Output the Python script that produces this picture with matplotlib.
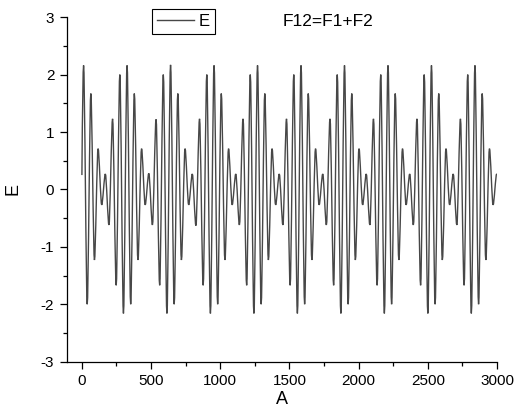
import numpy as np
import matplotlib
matplotlib.use('Agg')
from matplotlib import pyplot as plt
from matplotlib.ticker import MultipleLocator
from matplotlib.path import Path
from matplotlib.patches import PathPatch

plt.rcParams['font.family'] = ['Liberation Sans', 'DejaVu Sans']
plt.rcParams['axes.unicode_minus'] = False

# turning points of E (A, E), plus the first and last sample
start_pt = (1, 0.25)
end_pt = (3000, 0.26)

peak_x = [13.1, 39.3, 65.5, 91.6, 117.8, 144.0, 170.2, 196.4, 222.5, 248.7, 274.9, 301.1,
          327.2, 353.4, 379.6, 405.8, 431.9, 458.1, 484.3, 510.5, 536.7, 562.8, 589.0, 615.2,
          641.4, 667.6, 693.8, 719.9, 746.1, 772.3, 798.5, 824.7, 850.8, 877.0, 903.2, 929.4,
          955.6, 981.7, 1007.9, 1034.1, 1060.3, 1086.5, 1112.6, 1138.8, 1165.0, 1191.2, 1217.3, 1243.5,
          1269.7, 1295.9, 1322.1, 1348.2, 1374.4, 1400.6, 1426.8, 1453.0, 1479.1, 1505.3, 1531.5, 1557.7,
          1583.9, 1610.0, 1636.2, 1662.4, 1688.6, 1714.7, 1740.9, 1767.1, 1793.3, 1819.5, 1845.6, 1871.8,
          1898.0, 1924.2, 1950.4, 1976.5, 2002.7, 2028.9, 2055.1, 2081.3, 2107.4, 2133.6, 2159.8, 2186.0,
          2212.2, 2238.3, 2264.5, 2290.7, 2316.9, 2343.0, 2369.2, 2395.4, 2421.6, 2447.8, 2473.9, 2500.1,
          2526.3, 2552.5, 2578.7, 2604.8, 2631.0, 2657.2, 2683.4, 2709.6, 2735.7, 2761.9, 2788.1, 2814.3,
          2840.5, 2866.6, 2892.8, 2919.0, 2945.2, 2971.4, 2997.5]

peak_E = [2.16, -2.00, 1.67, -1.23, 0.71, -0.27, 0.27, -0.62, 1.23, -1.67, 2.00, -2.16,
          2.16, -2.00, 1.67, -1.23, 0.71, -0.27, 0.28, -0.62, 1.22, -1.67, 2.00, -2.16,
          2.17, -2.00, 1.67, -1.23, 0.71, -0.27, 0.27, -0.63, 1.23, -1.67, 2.00, -2.16,
          2.16, -2.00, 1.67, -1.23, 0.71, -0.27, 0.27, -0.62, 1.23, -1.67, 2.00, -2.16,
          2.16, -2.00, 1.67, -1.23, 0.71, -0.27, 0.27, -0.62, 1.23, -1.67, 2.00, -2.16,
          2.16, -2.00, 1.67, -1.23, 0.71, -0.27, 0.27, -0.62, 1.23, -1.67, 2.00, -2.16,
          2.16, -2.00, 1.67, -1.23, 0.71, -0.27, 0.27, -0.62, 1.23, -1.67, 2.00, -2.16,
          2.16, -2.00, 1.67, -1.23, 0.71, -0.27, 0.27, -0.62, 1.23, -1.67, 2.00, -2.16,
          2.16, -2.00, 1.67, -1.23, 0.71, -0.27, 0.27, -0.62, 1.23, -1.67, 2.00, -2.16,
          2.16, -2.00, 1.67, -1.23, 0.71, -0.27, 0.27]

line_color = '#474747'

fig = plt.figure(figsize=(5.14, 4.2), dpi=100)
ax = fig.add_axes([0.13, 0.139, 0.837, 0.82])

# smooth path through the turning points: flat tangent at every extremum
k = 0.3
verts = [start_pt, ((start_pt[0] + peak_x[0]) / 2, peak_E[0]), (peak_x[0], peak_E[0])]
codes = [Path.MOVETO, Path.CURVE3, Path.CURVE3]
for i in range(len(peak_x) - 1):
    x0, y0 = peak_x[i], peak_E[i]
    x1, y1 = peak_x[i + 1], peak_E[i + 1]
    dx = x1 - x0
    verts += [(x0 + k * dx, y0), (x1 - k * dx, y1), (x1, y1)]
    codes += [Path.CURVE4] * 3
verts.append(end_pt)
codes.append(Path.LINETO)
ax.add_patch(PathPatch(Path(verts, codes), fill=False, edgecolor=line_color, lw=1.0))
ax.plot([], [], color=line_color, lw=1.0, label='E')

ax.set_xlim(-108, 3000)
ax.set_ylim(-3, 3)
ax.xaxis.set_major_locator(MultipleLocator(500))
ax.xaxis.set_minor_locator(MultipleLocator(250))
ax.yaxis.set_major_locator(MultipleLocator(1))
ax.yaxis.set_minor_locator(MultipleLocator(0.5))
ax.tick_params(which='major', direction='out', length=5, width=0.9, labelsize=11, pad=4)
ax.tick_params(which='minor', direction='out', length=3, width=0.9)
for s in ['top', 'right']:
    ax.spines[s].set_visible(False)
for s in ['left', 'bottom']:
    ax.spines[s].set_linewidth(0.9)

ax.set_xlabel('A', fontsize=13, labelpad=2)
ax.set_ylabel('E', fontsize=13, labelpad=14)

leg = ax.legend(loc='upper left', bbox_to_anchor=(152/514, 1-9/420), bbox_transform=fig.transFigure,
                borderaxespad=0, fancybox=False, edgecolor='black', fontsize=12, handlelength=2.2,
                handletextpad=0.3, borderpad=0.3, framealpha=1)
leg.get_frame().set_linewidth(0.8)

fig.text(328/514, 1-22/420, 'F12=F1+F2', fontsize=12.5, ha='center', va='center')

fig.savefig('out.png', dpi=100)
